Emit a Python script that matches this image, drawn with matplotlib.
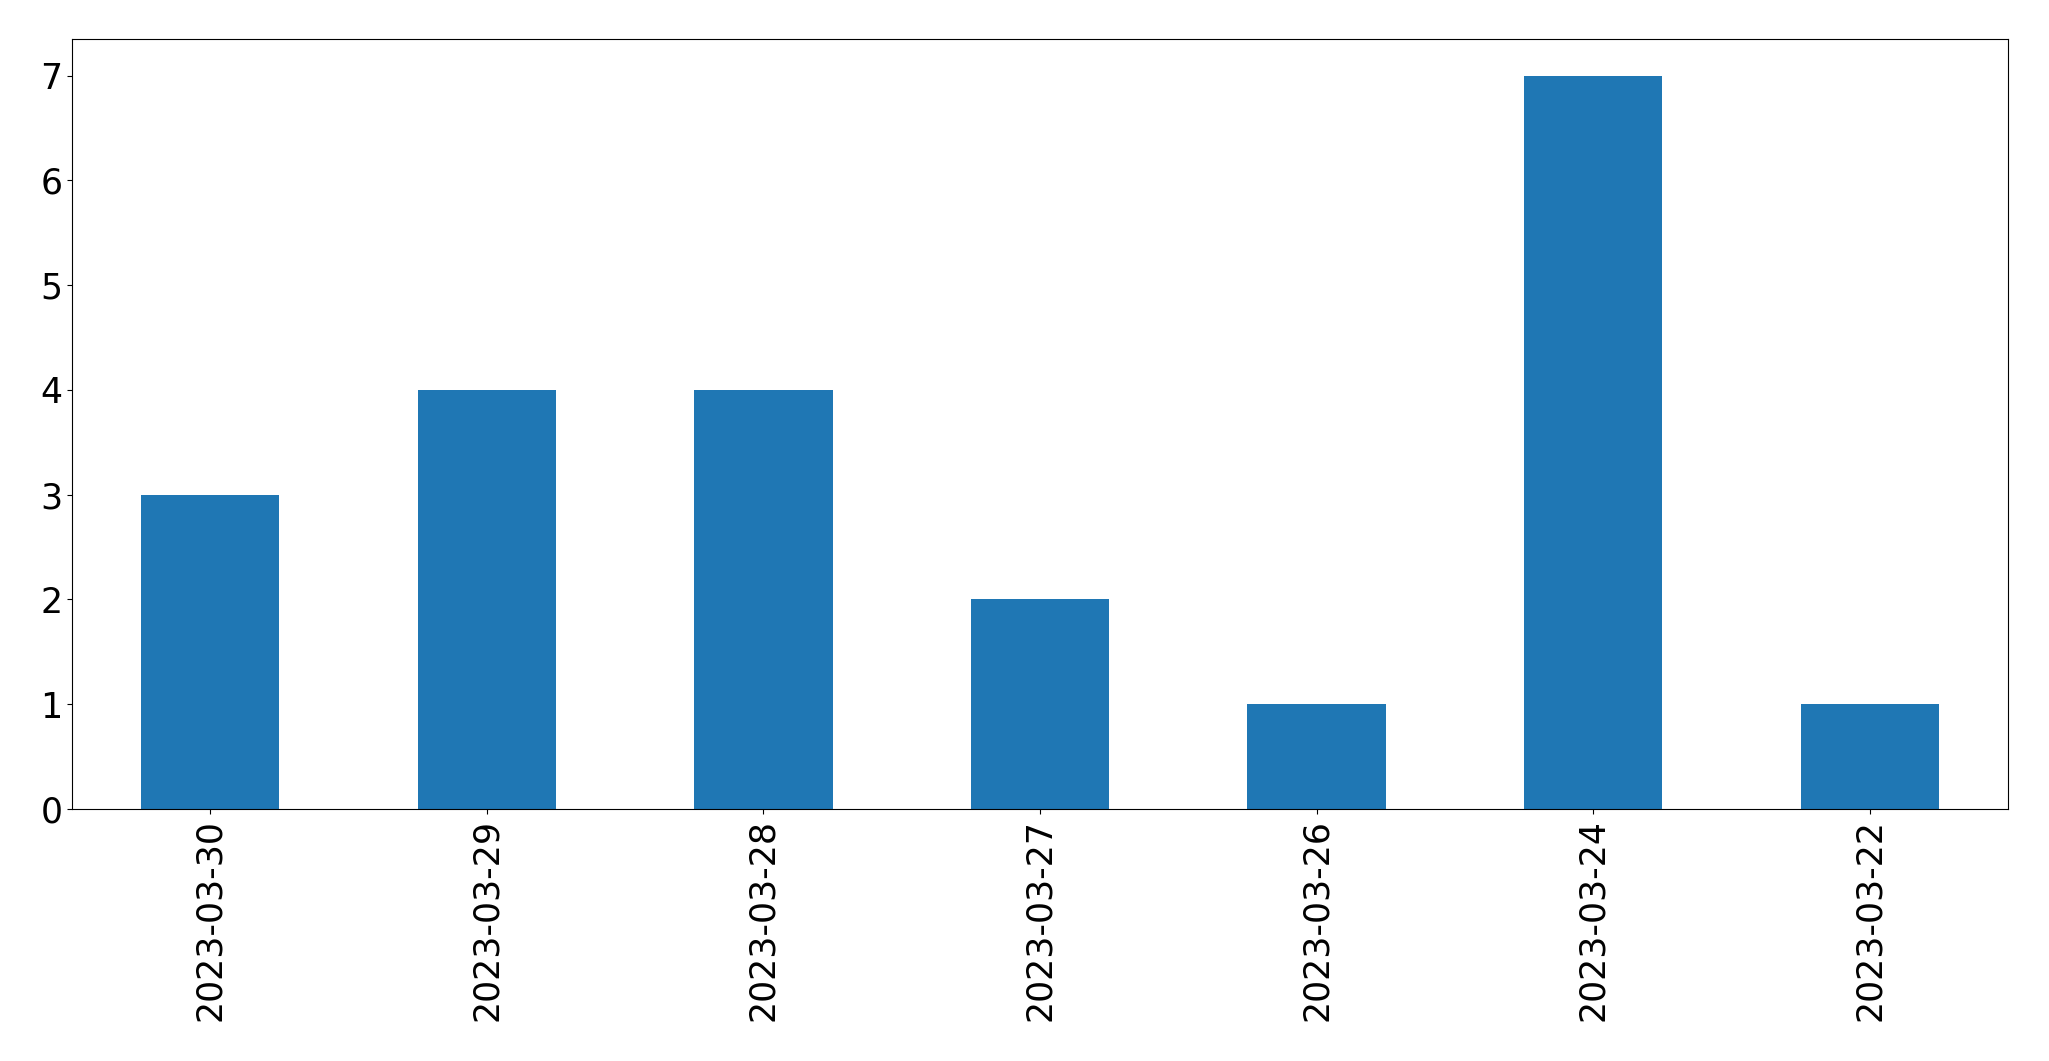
import matplotlib
matplotlib.use("Agg")
import matplotlib.pyplot as plt

dates = ["2023-03-30", "2023-03-29", "2023-03-28", "2023-03-27", "2023-03-26", "2023-03-24", "2023-03-22"]
counts = [3, 4, 4, 2, 1, 7, 1]

fig = plt.figure(figsize=(20.49, 10.61), dpi=100)
ax = fig.add_axes([72/2049, (1061-809)/1061, (2008-72)/2049, (809-39)/1061])
x = list(range(len(dates)))
ax.bar(x, counts, width=0.5, color="#1f77b4")
ax.set_xlim(-0.5, len(dates) - 0.5)
ax.set_ylim(0, max(counts) * 1.05)
ax.set_xticks(x)
ax.set_xticklabels(dates, rotation=90)
ax.tick_params(labelsize=25)
fig.savefig("out.png", dpi=100)
